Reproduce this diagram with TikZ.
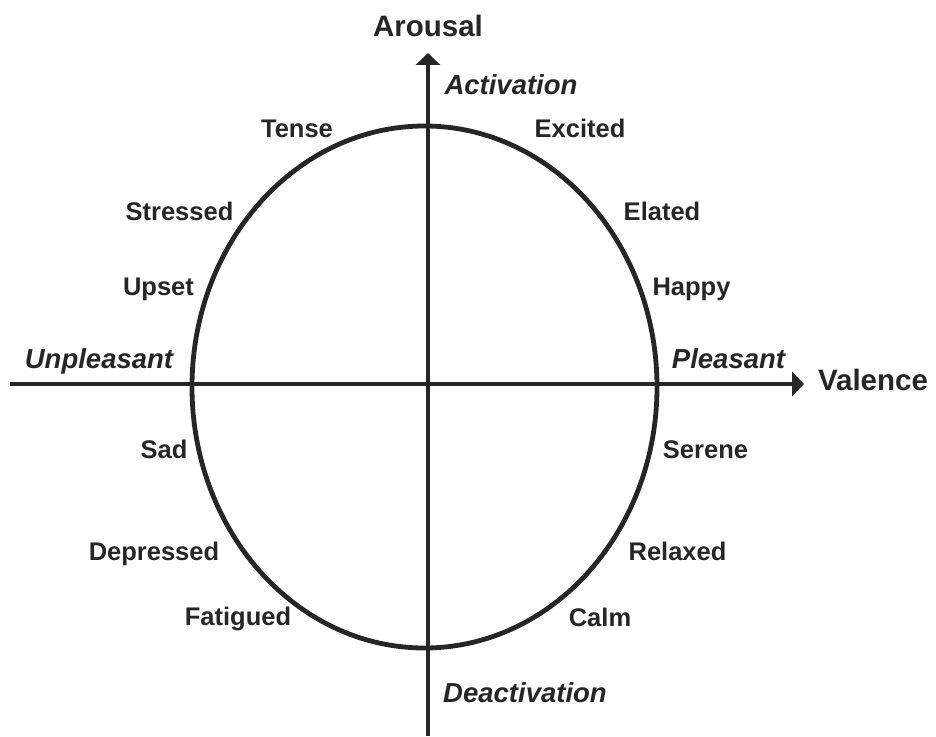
\documentclass[tikz,border=0pt]{standalone}
\usepackage{fontspec}
\setmainfont{Liberation Sans}
\usetikzlibrary{arrows.meta}
\definecolor{ink}{RGB}{38,38,38}

\begin{document}
\begin{tikzpicture}[
    x=1pt,y=1pt,
    emo/.style={anchor=base,inner sep=0pt,text=ink,font=\fontsize{25.5}{30}\selectfont\bfseries},
    axlabel/.style={anchor=base,inner sep=0pt,text=ink,font=\fontsize{29.5}{34}\selectfont\bfseries},
    pole/.style={anchor=base,inner sep=0pt,text=ink,font=\fontsize{27.5}{32}\selectfont\bfseries\itshape},
    axis/.style={draw=ink,line width=4.8pt,-{Triangle[width=24pt,length=12pt]}}
]
    \useasboundingbox (-428,384) rectangle (508,-352);

    % circumplex
    \draw[ink,line width=4.8pt] (-3.5,-3) ellipse [x radius=232.5pt,y radius=261pt];

    \coordinate (west) at (-418,0);
    \coordinate (east) at (376,0);
    \coordinate (south) at (0,-352);
    \coordinate (north) at (0,331);
    \draw[axis] (west) -- (east);
    \draw[axis] (south) -- (north);

    % axis names
    \node[axlabel] (arousal) at (0,347) {Arousal};
    \node[axlabel] (valence) at (445,-6) {Valence};
    \node[pole] (activ) at (83,289) {Activation};
    \node[pole] (deactiv) at (97,-318) {Deactivation};
    \node[pole] (unpl) at (-329,16) {Unpleasant};
    \node[pole] (pl) at (300.5,16) {Pleasant};

    % emotions
    \node[emo] (tense) at (-131,246) {Tense};
    \node[emo] (excited) at (152,246) {Excited};
    \node[emo] (stressed) at (-248.5,163) {Stressed};
    \node[emo] (elated) at (234,163) {Elated};
    \node[emo] (upset) at (-269.5,88) {Upset};
    \node[emo] (happy) at (263.5,88) {Happy};
    \node[emo] (sad) at (-264,-74) {Sad};
    \node[emo] (serene) at (277.5,-74) {Serene};
    \node[emo] (depressed) at (-274,-176) {Depressed};
    \node[emo] (relaxed) at (249.5,-176) {Relaxed};
    \node[emo] (fatigued) at (-190,-241) {Fatigued};
    \node[emo] (calm) at (172,-242) {Calm};
\end{tikzpicture}
\end{document}
